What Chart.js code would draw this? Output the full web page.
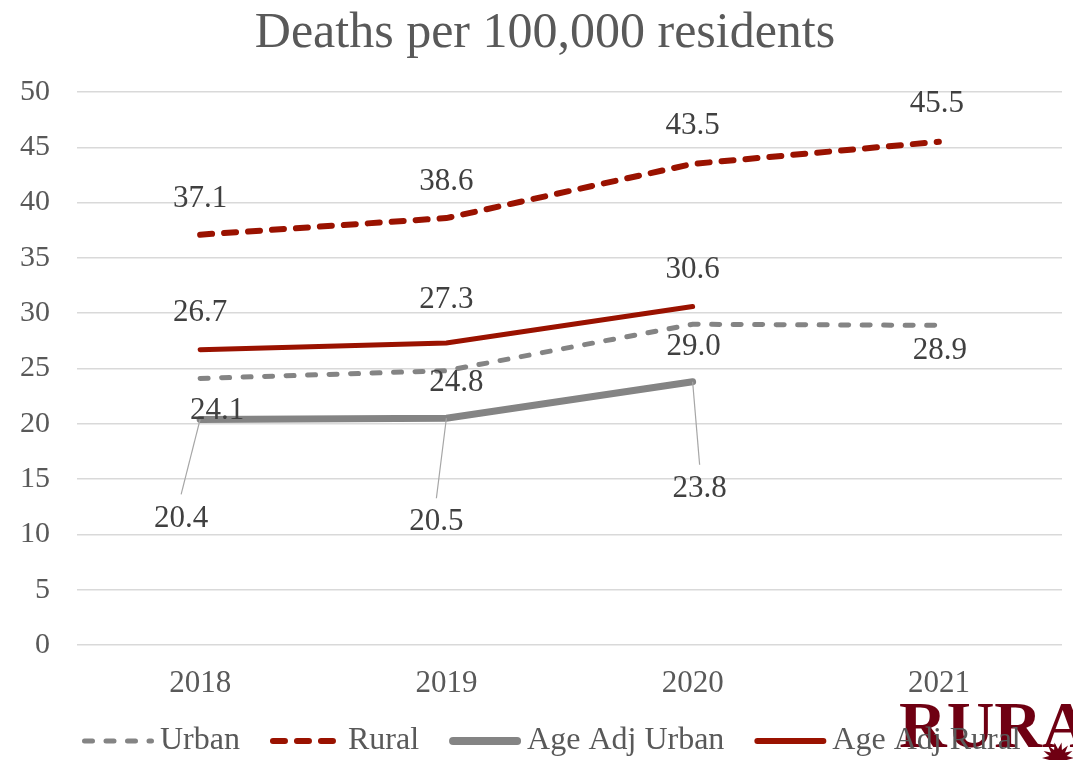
<!DOCTYPE html>
<html>
<head>
<meta charset="utf-8">
<script src="https://cdn.jsdelivr.net/npm/chart.js@4/dist/chart.umd.min.js"></script>
<style>
    html, body { margin: 0; padding: 0; background: #fff; }
    #wrap { width: 1073px; height: 760px; position: relative; }
</style>
</head>
<body>
<div id="wrap"><canvas id="deathsChart"></canvas></div>
<script>
// Datos del gráfico
const chartTitle = 'Deaths per 100,000 residents';
const years = ['2018', '2019', '2020', '2021'];
const urban = [24.1, 24.8, 29.0, 28.9];
const rural = [37.1, 38.6, 43.5, 45.5];
const ageAdjUrban = [20.4, 20.5, 23.8, null];
const ageAdjRural = [26.7, 27.3, 30.6, null];
const yTicks = [0, 5, 10, 15, 20, 25, 30, 35, 40, 45, 50];

const GRAY = '#848484';
const RED = '#9a1200';
const SERIF = '"Liberation Serif", "Times New Roman", serif';

// Label offsets per dataset (px from the point), leader = draw a line to the label
const labelOffsets = [
    { pts: [[17, 32], [10, 12], [1, 23], [1, 25]] },
    { pts: [[0, -36], [0, -36], [0, -38], [-2, -38]] },
    { pts: [[-19, 99], [-10, 104], [7, 107]], leader: true },
    { pts: [[0, -37], [0, -43], [0, -37]] }
];

// Plugin: title, drawn by hand so it sits where the original does
const titlePlugin = {
    id: 'titlePlugin',
    afterDraw(chart) {
        const ctx = chart.ctx;
        ctx.save();
        ctx.font = '50px ' + SERIF;
        ctx.fillStyle = '#595959';
        ctx.textAlign = 'center';
        ctx.textBaseline = 'alphabetic';
        ctx.fillText(chartTitle, 545, 47);
        ctx.restore();
    }
};

// Plugin: data labels
const dataLabels = {
    id: 'dataLabels',
    afterDatasetsDraw(chart) {
        const ctx = chart.ctx;
        ctx.save();
        ctx.font = '31px ' + SERIF;
        ctx.textAlign = 'center';
        ctx.textBaseline = 'middle';
        chart.data.datasets.forEach((ds, i) => {
            const meta = chart.getDatasetMeta(i);
            const cfg = labelOffsets[i];
            meta.data.forEach((pt, j) => {
                const v = ds.data[j];
                if (v === null || v === undefined) return;
                const off = cfg.pts[j] || [0, -30];
                const lx = pt.x + off[0];
                const ly = pt.y + off[1];
                if (cfg.leader) {
                    ctx.strokeStyle = '#a6a6a6';
                    ctx.lineWidth = 1.2;
                    ctx.beginPath();
                    ctx.moveTo(pt.x, pt.y);
                    ctx.lineTo(lx, ly - 24);
                    ctx.stroke();
                }
                ctx.fillStyle = '#404040';
                ctx.fillText(v.toFixed(1), lx, ly);
            });
        });
        ctx.restore();
    }
};

// Plugin: legend at the bottom (line samples with the dataset dash)
const bottomLegend = {
    id: 'bottomLegend',
    afterDraw(chart) {
        const ctx = chart.ctx;
        const y = 741;
        let x = 82;
        ctx.save();
        ctx.font = '32px ' + SERIF;
        ctx.textBaseline = 'middle';
        ctx.textAlign = 'left';
        chart.data.datasets.forEach(ds => {
            const w = ds.legendWidth || ds.borderWidth;
            ctx.strokeStyle = ds.borderColor;
            ctx.lineWidth = w;
            ctx.lineCap = 'round';
            ctx.setLineDash(ds.borderDash || []);
            ctx.beginPath();
            ctx.moveTo(x + w / 2, y);
            ctx.lineTo(x + 72 - w / 2, y);
            ctx.stroke();
            ctx.setLineDash([]);
            x += 78;
            ctx.fillStyle = '#595959';
            ctx.fillText(ds.label, x, y);
            x += ctx.measureText(ds.label).width + 30;
        });
        ctx.restore();
    }
};

// Plugin: logo in the corner
const logo = {
    id: 'logo',
    beforeDraw(chart) {
        const ctx = chart.ctx;
        ctx.save();
        ctx.fillStyle = '#6f0012';
        ctx.font = 'bold 66px ' + SERIF;
        ctx.textAlign = 'left';
        ctx.textBaseline = 'alphabetic';
        ctx.fillText('RURA', 899, 747);
        // small leaf mark
        const cx = 1058, cy = 758, n = 14;
        ctx.beginPath();
        for (let k = 0; k < n * 2; k++) {
            const r = k % 2 === 0 ? 16 : 9;
            const a = Math.PI + (k / (n * 2)) * Math.PI * 2;
            const px = cx + r * Math.cos(a);
            const py = cy + r * Math.sin(a);
            if (k === 0) ctx.moveTo(px, py); else ctx.lineTo(px, py);
        }
        ctx.closePath();
        ctx.fill();
        ctx.restore();
    }
};

const chart = new Chart(document.getElementById('deathsChart'), {
    type: 'line',
    data: {
        labels: years,
        datasets: [
            {
                label: 'Urban',
                data: urban,
                borderColor: GRAY,
                borderWidth: 5,
                borderDash: [8, 13.5],
                borderCapStyle: 'round',
                pointRadius: 0
            },
            {
                label: 'Rural',
                data: rural,
                borderColor: RED,
                borderWidth: 6,
                borderDash: [12, 12],
                borderCapStyle: 'round',
                pointRadius: 0
            },
            {
                label: 'Age Adj Urban',
                data: ageAdjUrban,
                borderColor: GRAY,
                borderWidth: 7,
                legendWidth: 8,
                borderCapStyle: 'round',
                pointRadius: 0
            },
            {
                label: 'Age Adj Rural',
                data: ageAdjRural,
                borderColor: RED,
                borderWidth: 5,
                legendWidth: 6,
                borderCapStyle: 'round',
                pointRadius: 0
            }
        ]
    },
    options: {
        responsive: true,
        maintainAspectRatio: false,
        animation: false,
        layout: { padding: { left: 0, right: 11, top: 92, bottom: 55 } },
        plugins: {
            title: { display: false },
            legend: { display: false },
            tooltip: { enabled: false }
        },
        scales: {
            x: {
                offset: true,
                grid: { display: false },
                border: { display: false },
                ticks: {
                    color: '#595959',
                    font: { family: SERIF, size: 31 },
                    padding: 12
                },
                afterFit(scale) { scale.height = 60; }
            },
            y: {
                min: 0,
                max: 50,
                afterBuildTicks(scale) {
                    scale.ticks = yTicks.map(v => ({ value: v }));
                },
                grid: { color: '#d9d9d9', lineWidth: 1.5, drawTicks: false },
                border: { display: false },
                ticks: {
                    color: '#595959',
                    font: { family: SERIF, size: 30 },
                    padding: 27
                },
                afterFit(scale) { scale.width = 77; }
            }
        }
    },
    plugins: [logo, dataLabels, bottomLegend, titlePlugin]
});
</script>
</body>
</html>
